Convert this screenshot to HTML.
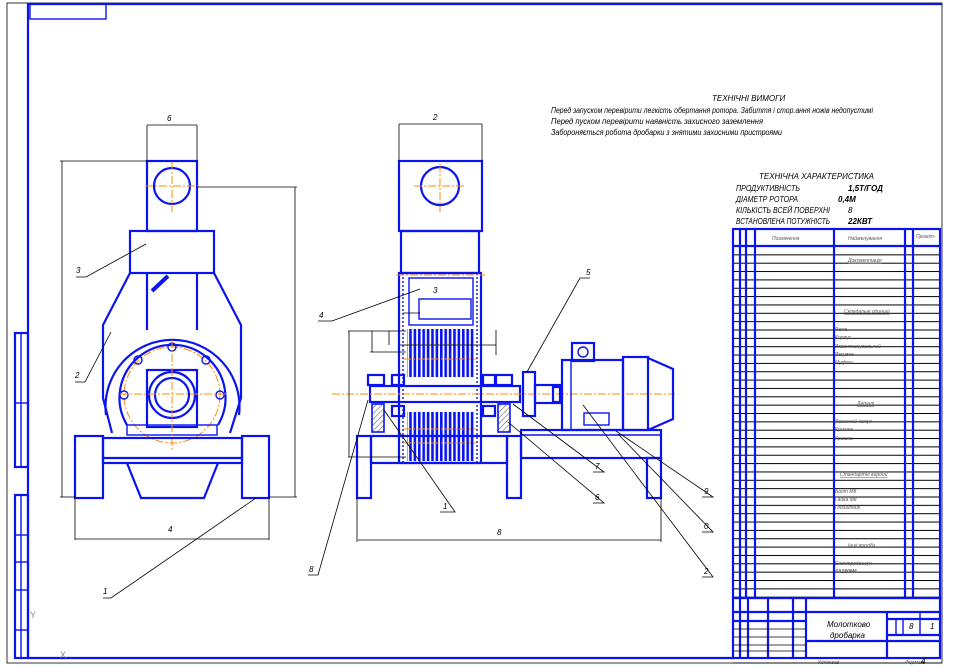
<!DOCTYPE html>
<html><head><meta charset="utf-8"><style>
html,body{margin:0;padding:0;background:#fff;}
svg{display:block;font-family:"Liberation Sans",sans-serif;}
.b{stroke:#0a14f0;fill:none;stroke-width:2.2}
.bt{stroke:#0a14f0;fill:none;stroke-width:1.4}
.k{stroke:#000;fill:none;stroke-width:0.8}
.o{stroke:#ff8c00;fill:none;stroke-width:1;stroke-dasharray:8 2 2 2}
.tx{font-style:italic;font-size:8px;fill:#000}
.sm{font-style:italic;font-size:5px;fill:#555}
</style></head><body>
<svg width="954" height="666" viewBox="0 0 954 666" xmlns="http://www.w3.org/2000/svg">
<defs>
<pattern id="rows" x="0" y="246" width="10" height="8.35" patternUnits="userSpaceOnUse"><line x1="0" y1="0.5" x2="10" y2="0.5" stroke="#000" stroke-width="1"/></pattern>
<pattern id="ham" x="0" y="0" width="4.4" height="10" patternUnits="userSpaceOnUse"><rect x="0" y="0" width="2.6" height="10" fill="#0a14f0"/></pattern>
<pattern id="hat" width="4" height="4" patternUnits="userSpaceOnUse" patternTransform="rotate(45)"><line x1="0" y1="0" x2="0" y2="4" stroke="#000" stroke-width="0.7"/></pattern>
</defs>
<!-- frame -->
<rect x="7" y="3" width="935" height="660" class="k"/>
<line x1="28" y1="3" x2="28" y2="658" class="b"/>
<line x1="28" y1="4" x2="942" y2="4" class="b"/>
<line x1="28" y1="658" x2="733" y2="658" class="b"/>
<rect x="30" y="4" width="76" height="15" class="bt"/>
<rect x="15" y="333" width="13" height="134" class="b"/>
<line x1="21" y1="333" x2="21" y2="467" class="bt"/><line x1="15" y1="403" x2="28" y2="403" class="bt"/>
<rect x="15" y="495" width="13" height="163" class="b"/>
<line x1="21" y1="495" x2="21" y2="658" class="bt"/>
<line x1="15" y1="535" x2="28" y2="535" class="bt"/><line x1="15" y1="562" x2="28" y2="562" class="bt"/><line x1="15" y1="590" x2="28" y2="590" class="bt"/><line x1="15" y1="630" x2="28" y2="630" class="bt"/>
<text x="60" y="658" font-size="9" fill="#888">X</text><text x="30" y="618" font-size="9" fill="#888">Y</text>

<!-- LEFT VIEW -->
<g>
<rect x="147" y="161" width="50" height="70" class="b"/>
<circle cx="172" cy="186" r="18" class="b"/>
<rect x="130" y="231" width="84" height="42" class="b"/>
<line x1="147" y1="273" x2="147" y2="330" class="b"/><line x1="197" y1="273" x2="197" y2="330" class="b"/>
<polyline points="130,273 103,325 103,398 112,433" class="b"/>
<polyline points="214,273 241,325 241,398 230,433" class="b"/>
<path d="M106,415 A67,67 0 1 1 239,415" class="b"/>
<path d="M127,425 A53,53 0 1 1 218,425" class="b"/>
<circle cx="172" cy="395" r="48" class="o"/>
<rect x="147" y="370" width="50" height="57" class="b"/>
<circle cx="172" cy="395" r="23" class="b"/>
<circle cx="172" cy="395" r="17" class="b"/>
<rect x="127" y="425" width="90" height="10" class="bt"/>
<line x1="152" y1="291" x2="168" y2="276" stroke="#0a14f0" stroke-width="4"/>
<circle cx="124" cy="395" r="4" class="bt"/><circle cx="220" cy="395" r="4" class="bt"/>
<circle cx="138" cy="360" r="4" class="bt"/><circle cx="206" cy="360" r="4" class="bt"/><circle cx="172" cy="347" r="4" class="bt"/>
<line x1="120" y1="394" x2="228" y2="394" class="o"/><line x1="172" y1="340" x2="172" y2="450" class="o"/>
<line x1="145" y1="186" x2="200" y2="186" class="o"/><line x1="172" y1="162" x2="172" y2="212" class="o"/>
<rect x="75" y="436" width="28" height="62" class="b" stroke-width="3"/>
<rect x="242" y="436" width="27" height="62" class="b" stroke-width="3"/>
<rect x="103" y="438" width="139" height="25" class="b"/>
<line x1="103" y1="458" x2="242" y2="458" class="b"/>
<polyline points="127,463 141,498 204,498 218,463" class="b"/>
<line x1="147" y1="125" x2="147" y2="161" class="k"/><line x1="197" y1="125" x2="197" y2="161" class="k"/><line x1="147" y1="125" x2="197" y2="125" class="k"/>
<line x1="60" y1="161" x2="147" y2="161" class="k"/><line x1="62" y1="161" x2="62" y2="497" class="k"/><line x1="60" y1="497" x2="75" y2="497" class="k"/>
<line x1="197" y1="187" x2="297" y2="187" class="k"/><line x1="295" y1="187" x2="295" y2="497" class="k"/><line x1="269" y1="497" x2="297" y2="497" class="k"/>
<line x1="75" y1="498" x2="75" y2="540" class="k"/><line x1="269" y1="498" x2="269" y2="540" class="k"/><line x1="75" y1="539" x2="269" y2="539" class="k"/>
<text x="167" y="121" class="tx">6</text><text x="168" y="532" class="tx">4</text>
<polyline points="76,277 86,277 146,244" class="k"/><text x="76" y="273" class="tx">3</text>
<polyline points="75,382 85,382 111,332" class="k"/><text x="75" y="378" class="tx">2</text>
<polyline points="103,598 111,598 256,498" class="k"/><text x="103" y="594" class="tx">1</text>
</g>

<!-- MIDDLE VIEW -->
<g>
<rect x="399" y="161" width="83" height="70" class="b"/>
<circle cx="440" cy="186" r="19" class="b"/>
<line x1="414" y1="186" x2="466" y2="186" class="o"/><line x1="440" y1="164" x2="440" y2="212" class="o"/>
<rect x="401" y="231" width="78" height="42" class="b"/>
<rect x="399" y="273" width="82" height="190" class="b"/>
<line x1="403" y1="273" x2="403" y2="463" class="bt" stroke-dasharray="2 2"/><line x1="477" y1="273" x2="477" y2="463" class="bt" stroke-dasharray="2 2"/>
<line x1="396" y1="275" x2="485" y2="275" class="o"/>
<rect x="409" y="278" width="64" height="47" class="bt"/>
<rect x="419" y="299" width="52" height="20" class="bt"/>
<rect x="407" y="329" width="68" height="48" fill="url(#ham)"/>
<rect x="407" y="412" width="68" height="49" fill="url(#ham)"/>
<line x1="403" y1="345" x2="477" y2="345" class="o"/><line x1="403" y1="359" x2="477" y2="359" class="o"/>
<line x1="403" y1="429" x2="477" y2="429" class="o"/><line x1="403" y1="443" x2="477" y2="443" class="o"/>
<rect x="370" y="386" width="150" height="16" class="b"/>
<line x1="332" y1="394" x2="675" y2="394" class="o"/>
<rect x="372" y="404" width="12" height="28" fill="url(#hat)" stroke="#0a14f0" stroke-width="1.6"/>
<rect x="498" y="404" width="12" height="28" fill="url(#hat)" stroke="#0a14f0" stroke-width="1.6"/>
<rect x="368" y="375" width="16" height="10" class="b"/><rect x="496" y="375" width="16" height="10" class="b"/>
<rect x="392" y="375" width="12" height="10" class="b"/><rect x="483" y="375" width="12" height="10" class="b"/>
<rect x="392" y="406" width="12" height="10" class="b"/><rect x="483" y="406" width="12" height="10" class="b"/>
<rect x="523" y="372" width="12" height="44" class="b"/><rect x="535" y="385" width="25" height="18" class="b"/>
<rect x="553" y="387" width="8" height="15" class="b"/>
<rect x="572" y="343" width="22" height="18" class="b"/><circle cx="583" cy="352" r="5" class="bt"/>
<rect x="562" y="360" width="61" height="70" class="b"/>
<rect x="571" y="360" width="52" height="70" class="bt"/>
<rect x="623" y="357" width="25" height="73" class="b"/>
<polyline points="648,358 673,369 673,419 648,430" class="b"/>
<rect x="584" y="413" width="25" height="12" class="bt"/>
<rect x="357" y="436" width="14" height="62" class="b" stroke-width="2.6"/>
<rect x="507" y="436" width="14" height="62" class="b" stroke-width="2.6"/>
<rect x="371" y="436" width="136" height="27" class="b"/>
<rect x="521" y="430" width="140" height="28" class="b" stroke-width="2.6"/>
<rect x="647" y="458" width="14" height="40" class="b" stroke-width="2.6"/>
<line x1="521" y1="435" x2="661" y2="435" class="bt"/>
<line x1="399" y1="124" x2="482" y2="124" class="k"/><line x1="399" y1="124" x2="399" y2="161" class="k"/><line x1="482" y1="124" x2="482" y2="161" class="k"/>
<line x1="357" y1="498" x2="357" y2="542" class="k"/><line x1="661" y1="498" x2="661" y2="542" class="k"/><line x1="358" y1="540" x2="661" y2="540" class="k"/>
<line x1="348" y1="331" x2="406" y2="331" class="k"/><line x1="349" y1="331" x2="349" y2="457" class="k"/><line x1="348" y1="457" x2="406" y2="457" class="k"/>
<line x1="372" y1="331" x2="372" y2="352" class="k"/><line x1="370" y1="352" x2="406" y2="352" class="k"/>
<line x1="389" y1="331" x2="389" y2="345" class="k"/><line x1="400" y1="345" x2="496" y2="345" class="k"/>
<line x1="496" y1="330" x2="496" y2="355" class="k"/><line x1="403" y1="313" x2="420" y2="313" class="k"/>
<text x="433" y="120" class="tx">2</text><text x="497" y="535" class="tx">8</text>
<text x="433" y="293" class="tx">3</text>
<polyline points="318,321 332,321 420,289" class="k"/><text x="319" y="318" class="tx">4</text>
<polyline points="590,278 580,278 527,372" class="k"/><text x="586" y="275" class="tx">5</text>
<polyline points="440,512 455,512 384,410" class="k"/><text x="443" y="509" class="tx">1</text>
<polyline points="593,503 604,503 508,422" class="k"/><text x="595" y="500" class="tx">6</text>
<polyline points="593,472 604,472 513,404" class="k"/><text x="595" y="469" class="tx">7</text>
<polyline points="702,497 713,497 616,431" class="k"/><text x="704" y="494" class="tx">9</text>
<polyline points="702,532 713,532 618,434" class="k"/><text x="704" y="529" class="tx">0</text>
<polyline points="702,577 713,577 583,405" class="k"/><text x="704" y="574" class="tx">2</text>
<polyline points="308,575 318,575 368,400" class="k"/><text x="309" y="572" class="tx">8</text>
</g>

<text x="712" y="101" class="tx" font-size="8">ТЕХНІЧНІ ВИМОГИ</text>
<text x="551" y="113" class="tx" font-size="8" textLength="322" lengthAdjust="spacingAndGlyphs">Перед запуском перевірити легкість обертання ротора. Забиття і стор.ання ножів недопустимі</text>
<text x="551" y="124" class="tx" font-size="8" textLength="212" lengthAdjust="spacingAndGlyphs">Перед пуском перевірити наявність захисного заземлення</text>
<text x="551" y="135" class="tx" font-size="8" textLength="231" lengthAdjust="spacingAndGlyphs">Забороняється робота дробарки з знятими захисними пристроями</text>
<text x="759" y="179" class="tx" font-size="8" textLength="115" lengthAdjust="spacingAndGlyphs">ТЕХНІЧНА ХАРАКТЕРИСТИКА</text>
<text x="736" y="191" class="tx" textLength="64" lengthAdjust="spacingAndGlyphs">ПРОДУКТИВНІСТЬ</text><text x="848" y="191" class="tx" font-weight="bold">1,5Т/ГОД</text>
<text x="736" y="202" class="tx" textLength="62" lengthAdjust="spacingAndGlyphs">ДІАМЕТР РОТОРА</text><text x="838" y="202" class="tx" font-weight="bold">0,4М</text>
<text x="736" y="213" class="tx" textLength="94" lengthAdjust="spacingAndGlyphs">КІЛЬКІСТЬ ВСЕЙ ПОВЕРХНІ</text><text x="848" y="213" class="tx">8</text>
<text x="736" y="224" class="tx" textLength="94" lengthAdjust="spacingAndGlyphs">ВСТАНОВЛЕНА ПОТУЖНІСТЬ</text><text x="848" y="224" class="tx" font-weight="bold">22КВТ</text>

<rect x="733" y="246" width="207" height="352" fill="url(#rows)"/>
<rect x="733" y="229" width="207" height="369" class="b"/>
<line x1="733" y1="246" x2="940" y2="246" class="b"/>
<line x1="740" y1="229" x2="740" y2="598" class="b"/><line x1="746" y1="229" x2="746" y2="598" class="b"/><line x1="755" y1="229" x2="755" y2="598" class="b"/>
<line x1="834" y1="229" x2="834" y2="598" class="b"/><line x1="905" y1="229" x2="905" y2="598" class="b"/><line x1="913" y1="229" x2="913" y2="598" class="b"/>
<text x="772" y="240" class="sm">Позначення</text><text x="848" y="240" class="sm">Найменування</text><text x="916" y="238" class="sm">Приміт-</text>
<text x="848" y="262" class="sm" text-decoration="underline">Документація</text>
<text x="844" y="313" class="sm" text-decoration="underline">Складальні одиниці</text>
<text x="835" y="331" class="sm">Рама</text><text x="835" y="339" class="sm">Корпус</text><text x="835" y="348" class="sm">Завантажувальний</text><text x="835" y="356" class="sm">Засувка</text><text x="835" y="364" class="sm">Муфта</text>
<text x="857" y="405" class="sm" text-decoration="underline">Деталі</text>
<text x="835" y="423" class="sm">Захисний кожух</text><text x="835" y="431" class="sm">Кришка</text><text x="835" y="440" class="sm">Кришка</text>
<text x="840" y="476" class="sm" text-decoration="underline">Стандартні вироби</text>
<text x="835" y="493" class="sm">Болт М8</text><text x="835" y="501" class="sm">Гайка М8</text><text x="835" y="509" class="sm">Підшипник</text>
<text x="848" y="547" class="sm">Інші вироби</text>
<text x="835" y="565" class="sm">Електродвигун</text><text x="835" y="573" class="sm" font-weight="bold" fill="#000">4А180М4</text>

<rect x="733" y="598" width="207" height="60" class="b"/>
<line x1="740" y1="598" x2="740" y2="658" class="b"/><line x1="748" y1="598" x2="748" y2="658" class="b"/><line x1="768" y1="598" x2="768" y2="658" class="b"/><line x1="793" y1="598" x2="793" y2="658" class="b"/><line x1="806" y1="598" x2="806" y2="658" class="b"/>
<line x1="733" y1="612" x2="806" y2="612" class="b"/><line x1="733" y1="621" x2="806" y2="621" class="b"/>
<line x1="733" y1="629" x2="806" y2="629" class="k"/><line x1="733" y1="637" x2="806" y2="637" class="k"/><line x1="733" y1="645" x2="806" y2="645" class="k"/><line x1="733" y1="651" x2="806" y2="651" class="k"/>
<line x1="806" y1="612" x2="940" y2="612" class="b"/><line x1="806" y1="641" x2="940" y2="641" class="b"/>
<line x1="887" y1="612" x2="887" y2="658" class="b"/><line x1="887" y1="619" x2="940" y2="619" class="b"/><line x1="887" y1="635" x2="940" y2="635" class="b"/>
<line x1="896" y1="619" x2="896" y2="635" class="bt"/><line x1="903" y1="619" x2="903" y2="635" class="bt"/><line x1="920" y1="612" x2="920" y2="635" class="bt"/>
<text x="827" y="627" class="tx" font-size="9">Молотково</text><text x="830" y="638" class="tx" font-size="9">дробарка</text>
<text x="909" y="629" class="tx">8</text><text x="930" y="629" class="tx">1</text>
<line x1="733" y1="663" x2="942" y2="663" class="k"/>
<text x="818" y="664" class="sm">Копіював</text><text x="905" y="664" class="sm">Формат</text><text x="921" y="664" class="tx" font-size="6">4</text>
</svg>
</body></html>
